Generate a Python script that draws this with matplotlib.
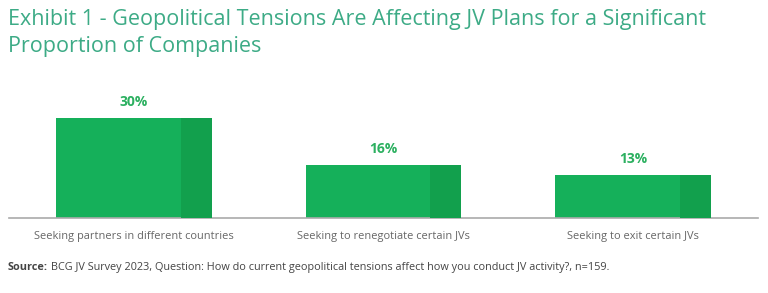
import matplotlib.pyplot as plt

categories = ["Seeking partners in different countries",
              "Seeking to renegotiate certain JVs",
              "Seeking to exit certain JVs"]
values = [30, 16, 13]
value_labels = ["30%", "16%", "13%"]

main_c = "#15b05a"
dark_c = "#12a04d"
title_c = "#3dab86"

plt.rcParams['font.family'] = ['Open Sans', 'DejaVu Sans']

fig = plt.figure(figsize=(7.68, 2.93), dpi=100)
ax = fig.add_axes([9/768, 75/293, 749/768, 118/293])
x = list(range(len(categories)))
w = 0.624
dw = 0.124
ax.bar(x, values, width=w, color=main_c, zorder=2)
ax.bar([xi + w/2 - dw/2 for xi in x], values, width=dw, color=dark_c, zorder=3)
for xi, v, lab in zip(x, values, value_labels):
    ax.text(xi, v + 2.6, lab, ha='center', va='bottom', fontsize=10,
            fontweight='bold', color="#2cb060")
ax.set_xlim(-0.5, 2.5)
ax.set_ylim(0, 35.4)
for s in ['top', 'right', 'left']:
    ax.spines[s].set_visible(False)
ax.spines['bottom'].set_color('#aaaaaa')
ax.spines['bottom'].set_linewidth(1.2)
ax.set_yticks([])
ax.set_xticks(x)
ax.set_xticklabels(categories, fontsize=7.9, color='#666666')
ax.tick_params(axis='x', length=0, pad=9)

fig.text(8/768, 1 - 9/293, "Exhibit 1 - Geopolitical Tensions Are Affecting JV Plans for a Significant\nProportion of Companies",
         ha='left', va='top', fontsize=15.5, color=title_c, linespacing=1.38)
t1 = fig.text(8/768, 1 - 270/293, "Source:", fontsize=7.8, color='#444444',
              va='baseline', fontweight='bold')
fig.canvas.draw()
bb = t1.get_window_extent()
fig.text((bb.x1 + 3)/768, 1 - 270/293,
         "BCG JV Survey 2023, Question: How do current geopolitical tensions affect how you conduct JV activity?, n=159.",
         fontsize=7.8, color='#444444', va='baseline')

fig.savefig("out.png", dpi=100)
